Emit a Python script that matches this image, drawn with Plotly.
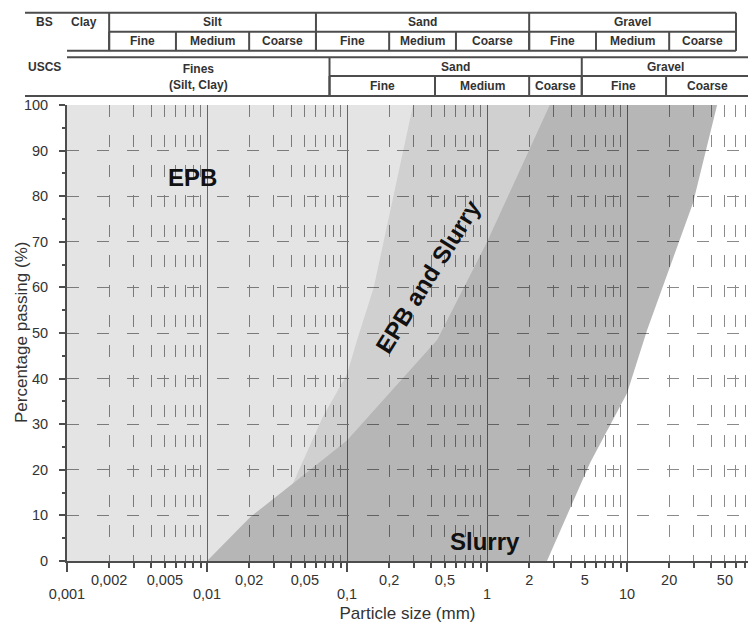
import math
import plotly.graph_objects as go

# ---------------- data ----------------
# boundary between "EPB and Slurry"/EPB band and Slurry-only area (mm, % passing)
curve_m_x = [0.01, 0.0203, 0.041, 0.1, 0.44, 1.0, 2.8]
curve_m_y = [0, 9.6, 17, 26.5, 48.5, 70, 100]
# boundary between EPB-only area and "EPB and Slurry" band
curve_l_x = [0.041, 0.067, 0.1, 0.118, 0.155, 0.296]
curve_l_y = [17, 31.6, 41, 48.5, 60, 100]
# right limit of Slurry area
curve_r_x = [2.68, 5.44, 10, 13.9, 29.6, 44]
curve_r_y = [0, 21.5, 36.8, 50.6, 78.5, 100]

x_min = 0.001
x_max_log = 1.864

decades = [0.001, 0.01, 0.1, 1, 10]
decade_labels = ["0,001", "0,01", "0,1", "1", "10"]
mid_ticks = [0.002, 0.005, 0.02, 0.05, 0.2, 0.5, 2, 5, 20, 50]
mid_labels = ["0,002", "0,005", "0,02", "0,05", "0,2", "0,5", "2", "5", "20", "50"]
minor_vals = [m * d for d in decades for m in range(2, 10)]
y_ticks = list(range(0, 101, 10))

# BS classification (mm)
bs_main_bounds = [0.002, 0.06, 2, 60]
bs_main_names = ["Silt", "Sand", "Gravel"]
bs_sub_bounds = [0.002, 0.006, 0.02, 0.06, 0.2, 0.6, 2, 6, 20, 60]
bs_sub_names = ["Fine", "Medium", "Coarse"] * 3
# USCS classification (mm)
uscs_main_bounds = [0.075, 4.75, 75]
uscs_main_names = ["Sand", "Gravel"]
uscs_sub_bounds = [0.075, 0.425, 2, 4.75, 19, 75]
uscs_sub_names = ["Fine", "Medium", "Coarse", "Fine", "Coarse"]

FONT = "Liberation Sans, Arial, sans-serif"
TXT = "#333333"
LINE = "#4d4d4d"

fig = go.Figure()

# ---------------- filled zones ----------------
j = curve_m_x.index(curve_l_x[0])
light_x = [x_min] + curve_m_x[: j + 1] + curve_l_x[1:] + [x_min]
light_y = [0] + curve_m_y[: j + 1] + curve_l_y[1:] + [100]
mid_x = curve_l_x + curve_m_x[j:][::-1]
mid_y = curve_l_y + curve_m_y[j:][::-1]
dark_x = curve_m_x + curve_r_x[::-1]
dark_y = curve_m_y + curve_r_y[::-1]

for xs, ys, col in [
    (light_x, light_y, "rgba(0,0,0,0.105)"),
    (mid_x, mid_y, "rgba(0,0,0,0.185)"),
    (dark_x, dark_y, "rgba(0,0,0,0.285)"),
]:
    fig.add_trace(go.Scatter(x=xs, y=ys, mode="lines", fill="toself",
                             fillcolor=col, line=dict(width=0),
                             hoverinfo="skip", showlegend=False))

# ---------------- zone labels ----------------
zone_font = dict(family=FONT, size=24, color="#111111")
fig.add_annotation(x=math.log10(0.0079), y=84, text="<b>EPB</b>",
                   showarrow=False, font=zone_font)
fig.add_annotation(x=math.log10(0.38), y=62.3, text="<b>EPB and Slurry</b>",
                   showarrow=False, font=zone_font, textangle=-58)
fig.add_annotation(x=math.log10(0.97), y=4.2, text="<b>Slurry</b>",
                   showarrow=False, font=zone_font)

# ---------------- classification table ----------------
def pr(py):  # pixel row of the 623px image -> paper fraction of plot area
    return (561 - py) / 456

r_bs_top, r_bs_mid, r_bs_bot = pr(12.7), pr(31.7), pr(50.7)
r_us_top, r_us_mid, r_us_bot = pr(57.3), pr(76), pr(96)
left_ext = (25 - 67) / 681

def hline(x0, x1, y, ref="x"):
    fig.add_shape(type="line", xref=ref, yref="paper", x0=x0, x1=x1, y0=y, y1=y,
                  line=dict(color=LINE, width=2))

def vline(x, y0, y1):
    fig.add_shape(type="line", xref="x", yref="paper", x0=x, x1=x, y0=y0, y1=y1,
                  line=dict(color=LINE, width=2))

hline(left_ext, 0, r_bs_top, "paper")
hline(x_min, bs_main_bounds[-1], r_bs_top)
hline(bs_main_bounds[0], bs_main_bounds[-1], r_bs_mid)
hline(x_min, bs_main_bounds[-1], r_bs_bot)
hline(x_min, uscs_main_bounds[-1], r_us_top)
hline(uscs_main_bounds[0], uscs_main_bounds[-1], r_us_mid)
hline(left_ext, 0, r_us_bot, "paper")
hline(x_min, uscs_main_bounds[-1], r_us_bot)

for b in bs_main_bounds:
    vline(b, r_bs_bot, r_bs_top)
for b in bs_sub_bounds:
    vline(b, r_bs_bot, r_bs_mid)
for b in uscs_main_bounds[:-1]:
    vline(b, r_us_bot, r_us_top)
for b in uscs_sub_bounds[:-1]:
    vline(b, r_us_bot, r_us_mid)

tfont = dict(family=FONT, size=12, color=TXT)

def label(xv, yv, text, xref="x"):
    fig.add_annotation(x=xv, y=yv, xref=xref, yref="paper", text="<b>%s</b>" % text,
                       showarrow=False, font=tfont, xanchor="center", yanchor="middle")

def center(a, b):
    return (math.log10(a) + math.log10(b)) / 2

label(-0.033, (r_bs_top + r_bs_mid) / 2, "BS", "paper")
label((83.5 - 67) / 681, (r_bs_top + r_bs_mid) / 2, "Clay", "paper")
label(-0.033, (r_us_top + r_us_mid) / 2, "USCS", "paper")
for i, name in enumerate(bs_main_names):
    label(center(bs_main_bounds[i], bs_main_bounds[i + 1]), (r_bs_top + r_bs_mid) / 2, name)
for i, name in enumerate(bs_sub_names):
    label(center(bs_sub_bounds[i], bs_sub_bounds[i + 1]), (r_bs_mid + r_bs_bot) / 2, name)
label(center(x_min, uscs_main_bounds[0]), (r_us_top + r_us_bot) / 2, "Fines<br>(Silt, Clay)")
for i, name in enumerate(uscs_main_names):
    label(center(uscs_main_bounds[i], uscs_main_bounds[i + 1]), (r_us_top + r_us_mid) / 2, name)
for i, name in enumerate(uscs_sub_names):
    label(center(uscs_sub_bounds[i], uscs_sub_bounds[i + 1]), (r_us_mid + r_us_bot) / 2, name)

# y-axis title (placed close to the tick labels as in the original)
fig.add_annotation(x=(21 - 67) / 681, y=0.5, xref="paper", yref="paper",
                   text="Percentage passing (%)", textangle=-90, showarrow=False,
                   font=dict(family=FONT, size=17, color=TXT),
                   xanchor="center", yanchor="middle")

# ---------------- axes ----------------
tickfont = dict(family=FONT, size=14.5, color=TXT)
dash = "12px,18px"

fig.update_layout(
    width=748, height=623,
    margin=dict(l=67, r=0, t=105, b=62),
    paper_bgcolor="white", plot_bgcolor="white",
    showlegend=False,
    xaxis=dict(
        type="log", range=[math.log10(x_min), x_max_log],
        tickvals=decades, ticktext=decade_labels, tickfont=tickfont,
        ticks="outside", ticklen=9, tickwidth=1.5, tickcolor=LINE,
        ticklabelstandoff=10,
        showgrid=True, gridcolor="#707070", gridwidth=1,
        showline=True, linecolor=LINE, linewidth=2,
        zeroline=False,
        minor=dict(tickvals=minor_vals, ticks="outside", ticklen=5, tickwidth=1.5,
                   tickcolor=LINE, showgrid=True, gridcolor="#8a8a8a",
                   griddash=dash, gridwidth=1),
        title=dict(text="Particle size (mm)", font=dict(family=FONT, size=17, color=TXT),
                   standoff=6),
    ),
    xaxis2=dict(
        type="log", range=[math.log10(x_min), x_max_log], overlaying="x", anchor="y",
        side="bottom", tickvals=mid_ticks, ticktext=mid_labels, tickfont=tickfont,
        ticks="", ticklabelstandoff=8,
        showgrid=False, showline=False, zeroline=False,
    ),
    yaxis=dict(
        range=[0, 100], tickvals=y_ticks, tickfont=tickfont,
        ticks="outside", ticklen=6, tickwidth=1.5, tickcolor=LINE,
        ticklabelstandoff=8,
        showgrid=True, gridcolor="#8a8a8a", griddash=dash, gridwidth=1,
        showline=True, linecolor=LINE, linewidth=2, zeroline=False,
        minor=dict(dtick=5, tick0=0, ticks="outside", ticklen=3, tickwidth=1.5,
                   tickcolor=LINE, showgrid=False),
    ),
)

# invisible point so that xaxis2 is drawn
fig.add_trace(go.Scatter(x=[x_min], y=[0], xaxis="x2", mode="markers",
                         marker=dict(opacity=0), hoverinfo="skip", showlegend=False))

fig.write_html("out.html")
